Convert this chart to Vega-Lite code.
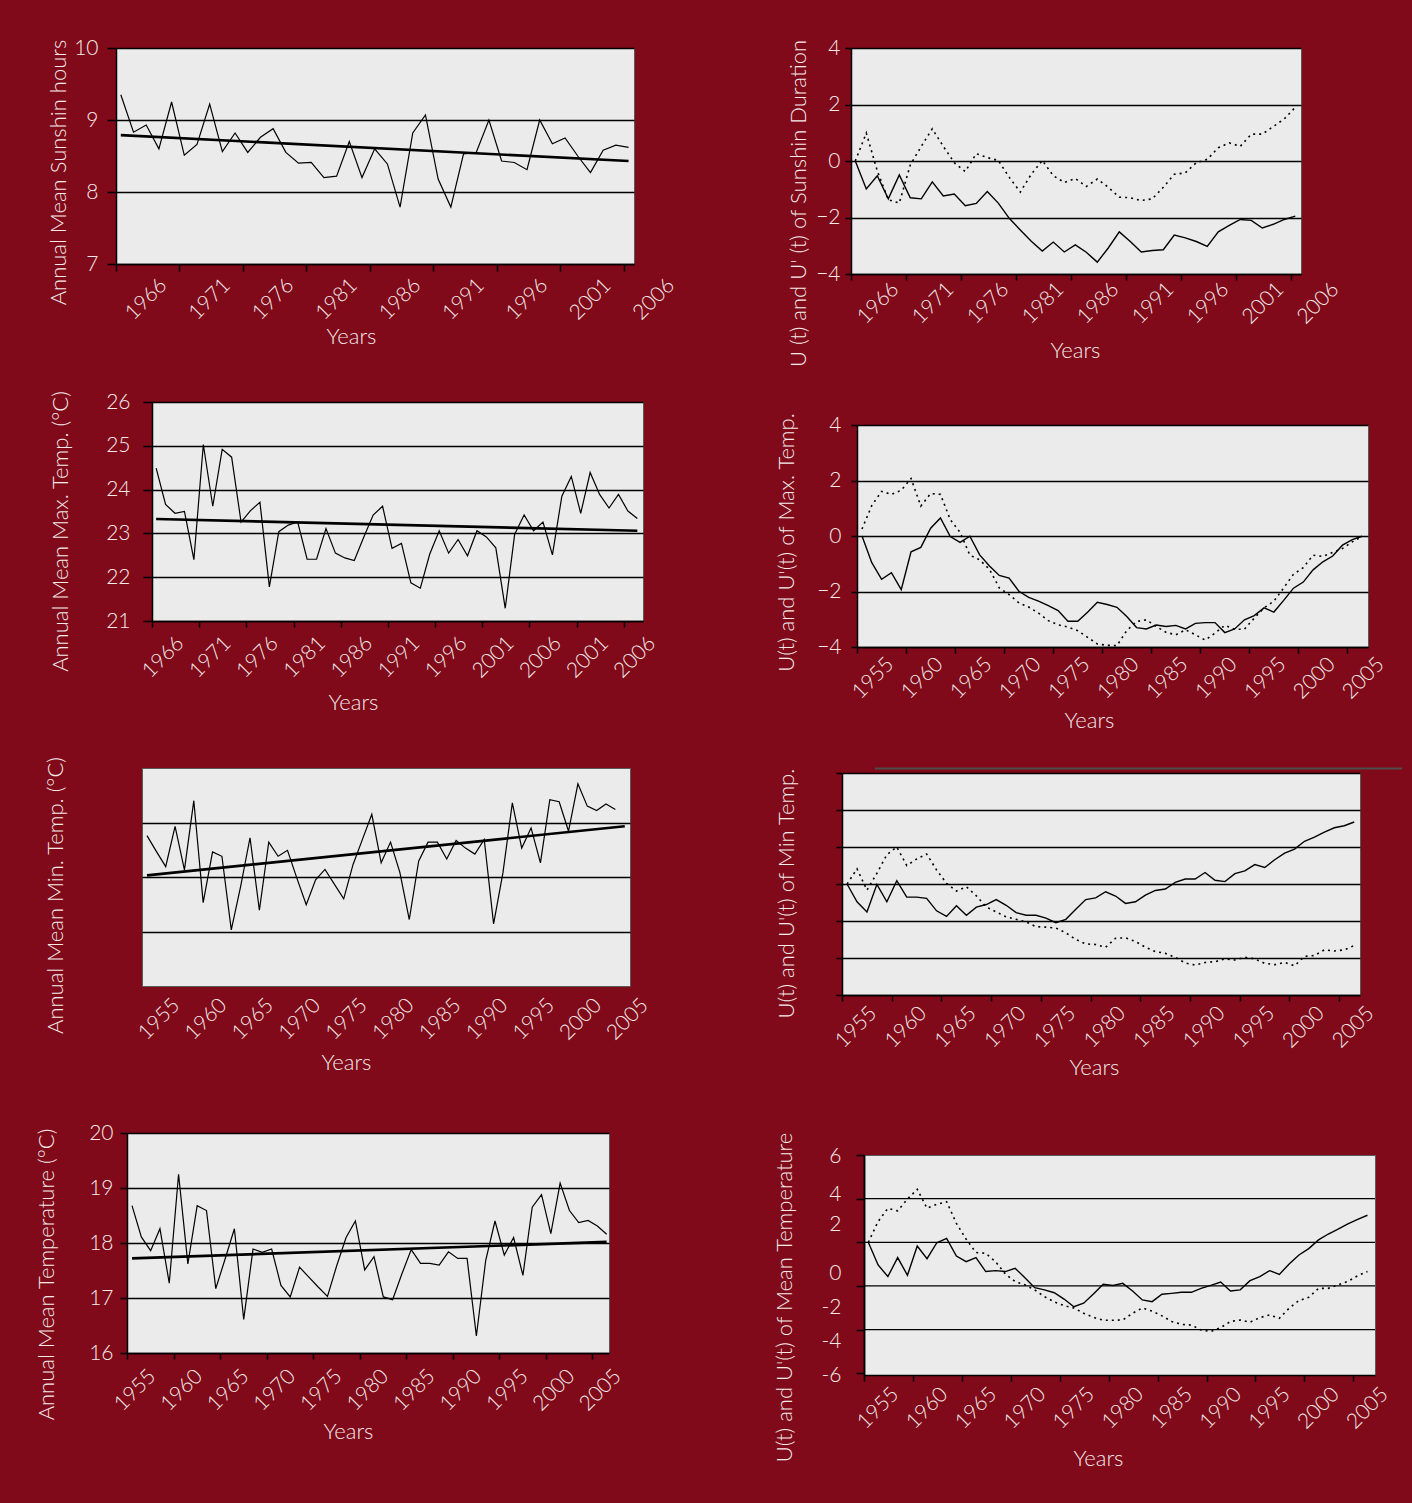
{
"$schema": "https://vega.github.io/schema/vega-lite/v6.json",
"background": "#80091a",
"padding": {"left": 0, "top": 5, "right": 8, "bottom": 35},
"config": {
  "view": {"fill": "#ebebeb", "stroke": "#5a5a5a", "strokeWidth": 1},
  "axis": {"labelFont": "Lato", "titleFont": "Lato", "labelFontWeight": 300, "titleFontWeight": 300, "labelColor": "#f3e9e9", "titleColor": "#f3e9e9", "labelFontSize": 21, "titleFontSize": 22, "domainColor": "#000000", "domainWidth": 1.5, "tickColor": "#000000", "tickWidth": 1.5, "gridColor": "#000000", "gridWidth": 1.3, "gridOpacity": 1, "labelFlush": false, "labelOverlap": false, "labelBound": false},
  "title": {"fontSize": 10, "color": "#80091a", "frame": "group"},
  "line": {"color": "#000000"}
},
"datasets": {
"p1": [{"year":1966,"v":9.35},{"year":1967,"v":8.83},{"year":1968,"v":8.93},{"year":1969,"v":8.60},{"year":1970,"v":9.25},{"year":1971,"v":8.51},{"year":1972,"v":8.66},{"year":1973,"v":9.22},{"year":1974,"v":8.56},{"year":1975,"v":8.82},{"year":1976,"v":8.55},{"year":1977,"v":8.76},{"year":1978,"v":8.88},{"year":1979,"v":8.55},{"year":1980,"v":8.40},{"year":1981,"v":8.41},{"year":1982,"v":8.20},{"year":1983,"v":8.22},{"year":1984,"v":8.70},{"year":1985,"v":8.20},{"year":1986,"v":8.60},{"year":1987,"v":8.39},{"year":1988,"v":7.79},{"year":1989,"v":8.82},{"year":1990,"v":9.07},{"year":1991,"v":8.18},{"year":1992,"v":7.79},{"year":1993,"v":8.53},{"year":1994,"v":8.55},{"year":1995,"v":9.00},{"year":1996,"v":8.43},{"year":1997,"v":8.41},{"year":1998,"v":8.31},{"year":1999,"v":9.00},{"year":2000,"v":8.67},{"year":2001,"v":8.75},{"year":2002,"v":8.50},{"year":2003,"v":8.27},{"year":2004,"v":8.58},{"year":2005,"v":8.65},{"year":2006,"v":8.62}],
"p1t": [{"year":1966,"v":8.79},{"year":2006,"v":8.43}],
"p2u": [{"year":1966,"v":0},{"year":1967,"v":-0.99},{"year":1968,"v":-0.52},{"year":1969,"v":-1.34},{"year":1970,"v":-0.49},{"year":1971,"v":-1.30},{"year":1972,"v":-1.34},{"year":1973,"v":-0.74},{"year":1974,"v":-1.24},{"year":1975,"v":-1.17},{"year":1976,"v":-1.58},{"year":1977,"v":-1.50},{"year":1978,"v":-1.08},{"year":1979,"v":-1.49},{"year":1980,"v":-2.03},{"year":1981,"v":-2.44},{"year":1982,"v":-2.84},{"year":1983,"v":-3.19},{"year":1984,"v":-2.87},{"year":1985,"v":-3.22},{"year":1986,"v":-2.97},{"year":1987,"v":-3.23},{"year":1988,"v":-3.58},{"year":1989,"v":-3.08},{"year":1990,"v":-2.51},{"year":1991,"v":-2.85},{"year":1992,"v":-3.22},{"year":1993,"v":-3.17},{"year":1994,"v":-3.14},{"year":1995,"v":-2.62},{"year":1996,"v":-2.72},{"year":1997,"v":-2.85},{"year":1998,"v":-3.02},{"year":1999,"v":-2.51},{"year":2000,"v":-2.28},{"year":2001,"v":-2.07},{"year":2002,"v":-2.10},{"year":2003,"v":-2.37},{"year":2004,"v":-2.24},{"year":2005,"v":-2.07},{"year":2006,"v":-1.95}],
"p2d": [{"year":1966,"v":0},{"year":1967,"v":0.99},{"year":1968,"v":-0.35},{"year":1969,"v":-1.37},{"year":1970,"v":-1.49},{"year":1971,"v":-0.14},{"year":1972,"v":0.52},{"year":1973,"v":1.14},{"year":1974,"v":0.52},{"year":1975,"v":-0.06},{"year":1976,"v":-0.37},{"year":1977,"v":0.26},{"year":1978,"v":0.12},{"year":1979,"v":0.02},{"year":1980,"v":-0.58},{"year":1981,"v":-1.10},{"year":1982,"v":-0.47},{"year":1983,"v":0.02},{"year":1984,"v":-0.52},{"year":1985,"v":-0.76},{"year":1986,"v":-0.62},{"year":1987,"v":-0.90},{"year":1988,"v":-0.64},{"year":1989,"v":-0.93},{"year":1990,"v":-1.28},{"year":1991,"v":-1.30},{"year":1992,"v":-1.40},{"year":1993,"v":-1.34},{"year":1994,"v":-0.93},{"year":1995,"v":-0.47},{"year":1996,"v":-0.42},{"year":1997,"v":-0.06},{"year":1998,"v":0.06},{"year":1999,"v":0.47},{"year":2000,"v":0.64},{"year":2001,"v":0.52},{"year":2002,"v":0.95},{"year":2003,"v":0.95},{"year":2004,"v":1.22},{"year":2005,"v":1.49},{"year":2006,"v":1.90}],
"p3": [{"year":1955,"v":24.49},{"year":1956,"v":23.66},{"year":1957,"v":23.46},{"year":1958,"v":23.50},{"year":1959,"v":22.40},{"year":1960,"v":25.03},{"year":1961,"v":23.62},{"year":1962,"v":24.92},{"year":1963,"v":24.74},{"year":1964,"v":23.26},{"year":1965,"v":23.52},{"year":1966,"v":23.71},{"year":1967,"v":21.78},{"year":1968,"v":23.04},{"year":1969,"v":23.19},{"year":1970,"v":23.26},{"year":1971,"v":22.41},{"year":1972,"v":22.41},{"year":1973,"v":23.11},{"year":1974,"v":22.55},{"year":1975,"v":22.44},{"year":1976,"v":22.38},{"year":1977,"v":22.91},{"year":1978,"v":23.42},{"year":1979,"v":23.62},{"year":1980,"v":22.66},{"year":1981,"v":22.77},{"year":1982,"v":21.87},{"year":1983,"v":21.75},{"year":1984,"v":22.53},{"year":1985,"v":23.06},{"year":1986,"v":22.55},{"year":1987,"v":22.86},{"year":1988,"v":22.49},{"year":1989,"v":23.06},{"year":1990,"v":22.92},{"year":1991,"v":22.67},{"year":1992,"v":21.29},{"year":1993,"v":22.98},{"year":1994,"v":23.42},{"year":1995,"v":23.06},{"year":1996,"v":23.26},{"year":1997,"v":22.51},{"year":1998,"v":23.85},{"year":1999,"v":24.30},{"year":2000,"v":23.46},{"year":2001,"v":24.39},{"year":2002,"v":23.89},{"year":2003,"v":23.58},{"year":2004,"v":23.89},{"year":2005,"v":23.51},{"year":2006,"v":23.34}],
"p3t": [{"year":1955,"v":23.33},{"year":2006,"v":23.06}],
"p4u": [{"year":1955,"v":0},{"year":1956,"v":-0.96},{"year":1957,"v":-1.56},{"year":1958,"v":-1.32},{"year":1959,"v":-1.93},{"year":1960,"v":-0.57},{"year":1961,"v":-0.41},{"year":1962,"v":0.28},{"year":1963,"v":0.65},{"year":1964,"v":-0.02},{"year":1965,"v":-0.23},{"year":1966,"v":-0.01},{"year":1967,"v":-0.68},{"year":1968,"v":-1.08},{"year":1969,"v":-1.42},{"year":1970,"v":-1.52},{"year":1971,"v":-1.99},{"year":1972,"v":-2.21},{"year":1973,"v":-2.35},{"year":1974,"v":-2.51},{"year":1975,"v":-2.69},{"year":1976,"v":-3.07},{"year":1977,"v":-3.07},{"year":1978,"v":-2.75},{"year":1979,"v":-2.39},{"year":1980,"v":-2.47},{"year":1981,"v":-2.57},{"year":1982,"v":-2.90},{"year":1983,"v":-3.30},{"year":1984,"v":-3.35},{"year":1985,"v":-3.21},{"year":1986,"v":-3.26},{"year":1987,"v":-3.22},{"year":1988,"v":-3.35},{"year":1989,"v":-3.15},{"year":1990,"v":-3.12},{"year":1991,"v":-3.12},{"year":1992,"v":-3.48},{"year":1993,"v":-3.35},{"year":1994,"v":-3.02},{"year":1995,"v":-2.87},{"year":1996,"v":-2.59},{"year":1997,"v":-2.74},{"year":1998,"v":-2.32},{"year":1999,"v":-1.88},{"year":2000,"v":-1.66},{"year":2001,"v":-1.22},{"year":2002,"v":-0.93},{"year":2003,"v":-0.72},{"year":2004,"v":-0.33},{"year":2005,"v":-0.13},{"year":2006,"v":-0.01}],
"p4d": [{"year":1955,"v":0.25},{"year":1956,"v":1.10},{"year":1957,"v":1.61},{"year":1958,"v":1.50},{"year":1959,"v":1.65},{"year":1960,"v":2.07},{"year":1961,"v":1.08},{"year":1962,"v":1.53},{"year":1963,"v":1.50},{"year":1964,"v":0.59},{"year":1965,"v":0.13},{"year":1966,"v":-0.69},{"year":1967,"v":-0.86},{"year":1968,"v":-1.20},{"year":1969,"v":-1.87},{"year":1970,"v":-2.11},{"year":1971,"v":-2.41},{"year":1972,"v":-2.56},{"year":1973,"v":-2.78},{"year":1974,"v":-3.05},{"year":1975,"v":-3.20},{"year":1976,"v":-3.28},{"year":1977,"v":-3.41},{"year":1978,"v":-3.65},{"year":1979,"v":-3.89},{"year":1980,"v":-3.94},{"year":1981,"v":-3.95},{"year":1982,"v":-3.41},{"year":1983,"v":-3.08},{"year":1984,"v":-3.02},{"year":1985,"v":-3.26},{"year":1986,"v":-3.47},{"year":1987,"v":-3.56},{"year":1988,"v":-3.38},{"year":1989,"v":-3.56},{"year":1990,"v":-3.75},{"year":1991,"v":-3.50},{"year":1992,"v":-3.22},{"year":1993,"v":-3.36},{"year":1994,"v":-3.36},{"year":1995,"v":-2.96},{"year":1996,"v":-2.59},{"year":1997,"v":-2.35},{"year":1998,"v":-1.87},{"year":1999,"v":-1.38},{"year":2000,"v":-1.14},{"year":2001,"v":-0.69},{"year":2002,"v":-0.74},{"year":2003,"v":-0.59},{"year":2004,"v":-0.45},{"year":2005,"v":-0.21},{"year":2006,"v":-0.01}],
"p5": [{"year":1955,"v":13.76},{"year":1956,"v":13.47},{"year":1957,"v":13.19},{"year":1958,"v":13.93},{"year":1959,"v":13.13},{"year":1960,"v":14.40},{"year":1961,"v":12.53},{"year":1962,"v":13.46},{"year":1963,"v":13.38},{"year":1964,"v":12.03},{"year":1965,"v":12.83},{"year":1966,"v":13.72},{"year":1967,"v":12.39},{"year":1968,"v":13.64},{"year":1969,"v":13.38},{"year":1970,"v":13.49},{"year":1971,"v":12.98},{"year":1972,"v":12.49},{"year":1973,"v":12.95},{"year":1974,"v":13.14},{"year":1975,"v":12.87},{"year":1976,"v":12.60},{"year":1977,"v":13.23},{"year":1978,"v":13.69},{"year":1979,"v":14.15},{"year":1980,"v":13.26},{"year":1981,"v":13.64},{"year":1982,"v":13.08},{"year":1983,"v":12.22},{"year":1984,"v":13.29},{"year":1985,"v":13.64},{"year":1986,"v":13.64},{"year":1987,"v":13.33},{"year":1988,"v":13.67},{"year":1989,"v":13.53},{"year":1990,"v":13.42},{"year":1991,"v":13.69},{"year":1992,"v":12.14},{"year":1993,"v":13.08},{"year":1994,"v":14.36},{"year":1995,"v":13.53},{"year":1996,"v":13.90},{"year":1997,"v":13.26},{"year":1998,"v":14.42},{"year":1999,"v":14.38},{"year":2000,"v":13.84},{"year":2001,"v":14.71},{"year":2002,"v":14.30},{"year":2003,"v":14.22},{"year":2004,"v":14.34},{"year":2005,"v":14.24}],
"p5t": [{"year":1955,"v":13.03},{"year":2006,"v":13.93}],
"p6u": [{"year":1955,"v":0},{"year":1956,"v":-0.96},{"year":1957,"v":-1.51},{"year":1958,"v":-0.02},{"year":1959,"v":-0.96},{"year":1960,"v":0.18},{"year":1961,"v":-0.71},{"year":1962,"v":-0.71},{"year":1963,"v":-0.78},{"year":1964,"v":-1.45},{"year":1965,"v":-1.75},{"year":1966,"v":-1.18},{"year":1967,"v":-1.69},{"year":1968,"v":-1.25},{"year":1969,"v":-1.11},{"year":1970,"v":-0.84},{"year":1971,"v":-1.15},{"year":1972,"v":-1.55},{"year":1973,"v":-1.69},{"year":1974,"v":-1.69},{"year":1975,"v":-1.84},{"year":1976,"v":-2.09},{"year":1977,"v":-1.91},{"year":1978,"v":-1.36},{"year":1979,"v":-0.84},{"year":1980,"v":-0.75},{"year":1981,"v":-0.42},{"year":1982,"v":-0.65},{"year":1983,"v":-1.05},{"year":1984,"v":-0.96},{"year":1985,"v":-0.60},{"year":1986,"v":-0.35},{"year":1987,"v":-0.27},{"year":1988,"v":0.09},{"year":1989,"v":0.27},{"year":1990,"v":0.27},{"year":1991,"v":0.62},{"year":1992,"v":0.20},{"year":1993,"v":0.13},{"year":1994,"v":0.56},{"year":1995,"v":0.71},{"year":1996,"v":1.05},{"year":1997,"v":0.89},{"year":1998,"v":1.31},{"year":1999,"v":1.67},{"year":2000,"v":1.89},{"year":2001,"v":2.31},{"year":2002,"v":2.53},{"year":2003,"v":2.80},{"year":2004,"v":3.04},{"year":2005,"v":3.15},{"year":2006,"v":3.35}],
"p6d": [{"year":1955,"v":0},{"year":1956,"v":0.82},{"year":1957,"v":-0.33},{"year":1958,"v":0.58},{"year":1959,"v":1.58},{"year":1960,"v":2.00},{"year":1961,"v":1.00},{"year":1962,"v":1.35},{"year":1963,"v":1.62},{"year":1964,"v":0.76},{"year":1965,"v":0.04},{"year":1966,"v":-0.38},{"year":1967,"v":-0.15},{"year":1968,"v":-0.64},{"year":1969,"v":-1.24},{"year":1970,"v":-1.51},{"year":1971,"v":-1.78},{"year":1972,"v":-1.91},{"year":1973,"v":-2.05},{"year":1974,"v":-2.31},{"year":1975,"v":-2.33},{"year":1976,"v":-2.38},{"year":1977,"v":-2.64},{"year":1978,"v":-3.00},{"year":1979,"v":-3.24},{"year":1980,"v":-3.27},{"year":1981,"v":-3.42},{"year":1982,"v":-2.93},{"year":1983,"v":-2.91},{"year":1984,"v":-3.11},{"year":1985,"v":-3.42},{"year":1986,"v":-3.65},{"year":1987,"v":-3.75},{"year":1988,"v":-3.96},{"year":1989,"v":-4.27},{"year":1990,"v":-4.38},{"year":1991,"v":-4.24},{"year":1992,"v":-4.20},{"year":1993,"v":-4.05},{"year":1994,"v":-4.11},{"year":1995,"v":-3.96},{"year":1996,"v":-4.05},{"year":1997,"v":-4.29},{"year":1998,"v":-4.36},{"year":1999,"v":-4.24},{"year":2000,"v":-4.42},{"year":2001,"v":-3.91},{"year":2002,"v":-3.87},{"year":2003,"v":-3.56},{"year":2004,"v":-3.62},{"year":2005,"v":-3.56},{"year":2006,"v":-3.33}],
"p6line": [{"year":1957.8,"year2":2010.8,"v":6.25}],
"p7": [{"year":1955,"v":18.68},{"year":1956,"v":18.11},{"year":1957,"v":17.86},{"year":1958,"v":18.26},{"year":1959,"v":17.27},{"year":1960,"v":19.25},{"year":1961,"v":17.62},{"year":1962,"v":18.68},{"year":1963,"v":18.59},{"year":1964,"v":17.17},{"year":1965,"v":17.71},{"year":1966,"v":18.26},{"year":1967,"v":16.61},{"year":1968,"v":17.89},{"year":1969,"v":17.83},{"year":1970,"v":17.89},{"year":1971,"v":17.23},{"year":1972,"v":17.02},{"year":1973,"v":17.56},{"year":1974,"v":17.38},{"year":1975,"v":17.20},{"year":1976,"v":17.03},{"year":1977,"v":17.59},{"year":1978,"v":18.10},{"year":1979,"v":18.40},{"year":1980,"v":17.51},{"year":1981,"v":17.75},{"year":1982,"v":17.02},{"year":1983,"v":16.97},{"year":1984,"v":17.44},{"year":1985,"v":17.88},{"year":1986,"v":17.63},{"year":1987,"v":17.63},{"year":1988,"v":17.60},{"year":1989,"v":17.84},{"year":1990,"v":17.72},{"year":1991,"v":17.72},{"year":1992,"v":16.31},{"year":1993,"v":17.68},{"year":1994,"v":18.40},{"year":1995,"v":17.78},{"year":1996,"v":18.10},{"year":1997,"v":17.41},{"year":1998,"v":18.65},{"year":1999,"v":18.88},{"year":2000,"v":18.17},{"year":2001,"v":19.09},{"year":2002,"v":18.59},{"year":2003,"v":18.37},{"year":2004,"v":18.41},{"year":2005,"v":18.31},{"year":2006,"v":18.16}],
"p7t": [{"year":1955,"v":17.72},{"year":2006,"v":18.02}],
"p8u": [{"year":1955,"v":0},{"year":1956,"v":-1.04},{"year":1957,"v":-1.57},{"year":1958,"v":-0.70},{"year":1959,"v":-1.51},{"year":1960,"v":-0.17},{"year":1961,"v":-0.75},{"year":1962,"v":-0.02},{"year":1963,"v":0.18},{"year":1964,"v":-0.63},{"year":1965,"v":-0.89},{"year":1966,"v":-0.70},{"year":1967,"v":-1.34},{"year":1968,"v":-1.30},{"year":1969,"v":-1.34},{"year":1970,"v":-1.19},{"year":1971,"v":-1.62},{"year":1972,"v":-2.08},{"year":1973,"v":-2.18},{"year":1974,"v":-2.31},{"year":1975,"v":-2.60},{"year":1976,"v":-2.95},{"year":1977,"v":-2.79},{"year":1978,"v":-2.37},{"year":1979,"v":-1.92},{"year":1980,"v":-1.98},{"year":1981,"v":-1.88},{"year":1982,"v":-2.23},{"year":1983,"v":-2.64},{"year":1984,"v":-2.72},{"year":1985,"v":-2.38},{"year":1986,"v":-2.34},{"year":1987,"v":-2.29},{"year":1988,"v":-2.29},{"year":1989,"v":-2.11},{"year":1990,"v":-1.97},{"year":1991,"v":-1.82},{"year":1992,"v":-2.23},{"year":1993,"v":-2.18},{"year":1994,"v":-1.76},{"year":1995,"v":-1.57},{"year":1996,"v":-1.30},{"year":1997,"v":-1.47},{"year":1998,"v":-0.99},{"year":1999,"v":-0.58},{"year":2000,"v":-0.29},{"year":2001,"v":0.11},{"year":2002,"v":0.38},{"year":2003,"v":0.60},{"year":2004,"v":0.84},{"year":2005,"v":1.05},{"year":2006,"v":1.24}],
"p8d": [{"year":1955,"v":0},{"year":1956,"v":0.95},{"year":1957,"v":1.56},{"year":1958,"v":1.44},{"year":1959,"v":1.98},{"year":1960,"v":2.43},{"year":1961,"v":1.56},{"year":1962,"v":1.74},{"year":1963,"v":1.86},{"year":1964,"v":0.87},{"year":1965,"v":0.14},{"year":1966,"v":-0.47},{"year":1967,"v":-0.50},{"year":1968,"v":-0.89},{"year":1969,"v":-1.45},{"year":1970,"v":-1.80},{"year":1971,"v":-1.95},{"year":1972,"v":-2.18},{"year":1973,"v":-2.49},{"year":1974,"v":-2.73},{"year":1975,"v":-2.90},{"year":1976,"v":-3.01},{"year":1977,"v":-3.25},{"year":1978,"v":-3.44},{"year":1979,"v":-3.57},{"year":1980,"v":-3.57},{"year":1981,"v":-3.56},{"year":1982,"v":-3.25},{"year":1983,"v":-3.01},{"year":1984,"v":-3.15},{"year":1985,"v":-3.37},{"year":1986,"v":-3.63},{"year":1987,"v":-3.76},{"year":1988,"v":-3.79},{"year":1989,"v":-4.02},{"year":1990,"v":-4.09},{"year":1991,"v":-3.91},{"year":1992,"v":-3.63},{"year":1993,"v":-3.56},{"year":1994,"v":-3.66},{"year":1995,"v":-3.45},{"year":1996,"v":-3.33},{"year":1997,"v":-3.48},{"year":1998,"v":-3.02},{"year":1999,"v":-2.67},{"year":2000,"v":-2.52},{"year":2001,"v":-2.11},{"year":2002,"v":-2.11},{"year":2003,"v":-1.95},{"year":2004,"v":-1.79},{"year":2005,"v":-1.53},{"year":2006,"v":-1.34}],
"p8g": [{"v":-4},{"v":-2},{"v":0},{"v":2}],
"blank": [{}]
},
"spacing": 90,
"hconcat": [
{"concat": [
 {"spacing": 0, "hconcat": [
  {"width": 46, "height": 1, "view": {"fill": null, "stroke": null}, "data": {"name": "blank"}, "mark": {"type": "point", "opacity": 0, "size": 1}},
  {"width": 518, "height": 216,
   "title": {"text": " ", "offset": 21},
   "encoding": {
     "x": {"field": "year", "type": "quantitative", "scale": {"domain": [1965.62, 2006.43], "nice": false, "zero": false},
           "axis": {"title": "Years", "titleX": 235, "grid": false, "values": [1965.62,1970.62,1975.62,1980.62,1985.62,1990.62,1995.62,2000.62,2005.62], "labelExpr": "'' + round(datum.value + 0.5)", "labelAngle": -45, "labelAlign": "center", "labelBaseline": "middle", "labelOffset": 30, "tickSize": 7, "labelPadding": 28, "minExtent": 50, "maxExtent": 50, "titlePadding": 12}},
     "y": {"field": "v", "type": "quantitative", "scale": {"domain": [7, 10], "nice": false, "zero": false},
           "axis": {"title": "Annual Mean Sunshin hours", "titleY": 124, "values": [7,8,9,10], "grid": true, "tickSize": 9, "labelPadding": 9, "minExtent": 40, "maxExtent": 40, "titlePadding": 6}}
   },
   "layer": [
     {"data": {"name": "p1"}, "mark": {"type": "line", "color": "#000", "strokeWidth": 1.2}},
     {"data": {"name": "p1t"}, "mark": {"type": "line", "color": "#000", "strokeWidth": 2.6}}
   ]}]},
 {"spacing": 0, "hconcat": [
  {"width": 48, "height": 1, "view": {"fill": null, "stroke": null}, "data": {"name": "blank"}, "mark": {"type": "point", "opacity": 0, "size": 1}},
  {"width": 491, "height": 219,
   "title": {"text": " ", "offset": 21},
   "encoding": {
     "x": {"field": "year", "type": "quantitative", "scale": {"domain": [1954.56, 2006.6], "nice": false, "zero": false},
           "axis": {"title": "Years", "titleX": 201, "grid": false, "values": [1954.56,1959.56,1964.56,1969.56,1974.56,1979.56,1984.56,1989.56,1994.56,1999.56,2004.56], "labelExpr": "datum.value < 1997 ? '' + (1966 + 5 * round((datum.value - 1954.56) / 5)) : datum.value < 2002 ? '2001' : '2006'", "labelAngle": -45, "labelAlign": "center", "labelBaseline": "middle", "labelOffset": 11, "tickSize": 6, "labelPadding": 30, "minExtent": 50, "maxExtent": 50, "titlePadding": 21}},
     "y": {"field": "v", "type": "quantitative", "scale": {"domain": [21, 26], "nice": false, "zero": false},
           "axis": {"title": "Annual Mean Max. Temp. (°C)", "titleY": 129, "values": [21,22,23,24,25,26], "grid": true, "tickSize": 9, "labelPadding": 13, "minExtent": 46, "maxExtent": 46, "titlePadding": 34}}
   },
   "layer": [
     {"data": {"name": "p3"}, "mark": {"type": "line", "color": "#000", "strokeWidth": 1.2}},
     {"data": {"name": "p3t"}, "mark": {"type": "line", "color": "#000", "strokeWidth": 2.6}}
   ]}]},
 {"spacing": 0, "hconcat": [
  {"width": 43, "height": 1, "view": {"fill": null, "stroke": null}, "data": {"name": "blank"}, "mark": {"type": "point", "opacity": 0, "size": 1}},
  {"width": 488, "height": 218,
   "title": {"text": " ", "offset": 21},
   "encoding": {
     "x": {"field": "year", "type": "quantitative", "scale": {"domain": [1954.47, 2006.56], "nice": false, "zero": false},
           "axis": {"title": "Years", "titleX": 204, "grid": false, "domain": false, "ticks": false, "values": [1954.47,1959.47,1964.47,1969.47,1974.47,1979.47,1984.47,1989.47,1994.47,1999.47,2004.47], "labelExpr": "'' + round(datum.value + 0.5)", "labelAngle": -45, "labelAlign": "center", "labelBaseline": "middle", "labelOffset": 17, "labelPadding": 33, "minExtent": 50, "maxExtent": 50, "titlePadding": 16}},
     "y": {"field": "v", "type": "quantitative", "scale": {"domain": [11, 15], "nice": false, "zero": false},
           "axis": {"title": "Annual Mean Min. Temp. (°C)", "titleY": 127, "values": [12,13,14], "grid": true, "labels": false, "ticks": false, "domain": false, "minExtent": 0, "maxExtent": 0, "titlePadding": 75}}
   },
   "layer": [
     {"data": {"name": "p5"}, "mark": {"type": "line", "color": "#000", "strokeWidth": 1.2}},
     {"data": {"name": "p5t"}, "mark": {"type": "line", "color": "#000", "strokeWidth": 2.6}}
   ]}]},
 {"spacing": 0, "hconcat": [
  {"width": 34, "height": 1, "view": {"fill": null, "stroke": null}, "data": {"name": "blank"}, "mark": {"type": "point", "opacity": 0, "size": 1}},
  {"width": 482, "height": 220,
   "title": {"text": " ", "offset": 27},
   "encoding": {
     "x": {"field": "year", "type": "quantitative", "scale": {"domain": [1954.46, 2006.25], "nice": false, "zero": false},
           "axis": {"title": "Years", "titleX": 221, "grid": false, "values": [1954.46,1959.46,1964.46,1969.46,1974.46,1979.46,1984.46,1989.46,1994.46,1999.46,2004.46], "labelExpr": "'' + round(datum.value + 0.5)", "labelAngle": -45, "labelAlign": "center", "labelBaseline": "middle", "labelOffset": 8, "tickSize": 6, "labelPadding": 31, "minExtent": 50, "maxExtent": 50, "titlePadding": 18}},
     "y": {"field": "v", "type": "quantitative", "scale": {"domain": [16, 20], "nice": false, "zero": false},
           "axis": {"title": "Annual Mean Temperature (°C)", "titleY": 141, "values": [16,17,18,19,20], "grid": true, "tickSize": 7, "labelPadding": 7, "minExtent": 38, "maxExtent": 38, "titlePadding": 31}}
   },
   "layer": [
     {"data": {"name": "p7"}, "mark": {"type": "line", "color": "#000", "strokeWidth": 1.2}},
     {"data": {"name": "p7t"}, "mark": {"type": "line", "color": "#000", "strokeWidth": 2.6}}
   ]}]}
 ], "columns": 1, "align": "none", "spacing": 10},
{"concat": [
 {"spacing": 0, "hconcat": [
  {"width": 17, "height": 1, "view": {"fill": null, "stroke": null}, "data": {"name": "blank"}, "mark": {"type": "point", "opacity": 0, "size": 1}},
  {"width": 450, "height": 226,
   "title": {"text": " ", "offset": 19},
   "encoding": {
     "x": {"field": "year", "type": "quantitative", "scale": {"domain": [1965.61, 2006.52], "nice": false, "zero": false},
           "axis": {"title": "Years", "titleX": 224, "grid": false, "values": [1965.61,1970.61,1975.61,1980.61,1985.61,1990.61,1995.61,2000.61,2005.61], "labelExpr": "'' + round(datum.value + 0.5)", "labelAngle": -45, "labelAlign": "center", "labelBaseline": "middle", "labelOffset": 27, "tickSize": 6, "labelPadding": 23, "minExtent": 50, "maxExtent": 50, "titlePadding": 16}},
     "y": {"field": "v", "type": "quantitative", "scale": {"domain": [-4, 4], "nice": false, "zero": false},
           "axis": {"title": "U (t) and U' (t) of Sunshin Duration", "titleY": 155, "values": [-4,-2,0,2,4], "grid": true, "tickSize": 6, "labelPadding": 5, "minExtent": 29, "maxExtent": 29, "titlePadding": 12}}
   },
   "layer": [
     {"data": {"name": "p2u"}, "mark": {"type": "line", "color": "#000", "strokeWidth": 1.4}},
     {"data": {"name": "p2d"}, "mark": {"type": "line", "color": "#000", "strokeWidth": 1.6, "strokeDash": [2, 4]}}
   ]}]},
 {"spacing": 0, "hconcat": [
  {"width": 5, "height": 1, "view": {"fill": null, "stroke": null}, "data": {"name": "blank"}, "mark": {"type": "point", "opacity": 0, "size": 1}},
  {"width": 511, "height": 222,
   "title": {"text": " ", "offset": 23},
   "encoding": {
     "x": {"field": "year", "type": "quantitative", "scale": {"domain": [1954.49, 2006.6], "nice": false, "zero": false},
           "axis": {"title": "Years", "titleX": 232, "grid": false, "values": [1954.49,1959.49,1964.49,1969.49,1974.49,1979.49,1984.49,1989.49,1994.49,1999.49,2004.49], "labelExpr": "'' + round(datum.value + 0.5)", "labelAngle": -45, "labelAlign": "center", "labelBaseline": "middle", "labelOffset": 16, "tickSize": 6, "labelPadding": 25, "minExtent": 50, "maxExtent": 50, "titlePadding": 13}},
     "y": {"field": "v", "type": "quantitative", "scale": {"domain": [-4, 4], "nice": false, "zero": false},
           "axis": {"title": "U(t) and U'(t) of Max. Temp.", "titleY": 117, "values": [-4,-2,0,2,4], "grid": true, "tickSize": 6, "labelPadding": 10, "minExtent": 34, "maxExtent": 34, "titlePadding": 25}}
   },
   "layer": [
     {"data": {"name": "p4u"}, "mark": {"type": "line", "color": "#000", "strokeWidth": 1.4}},
     {"data": {"name": "p4d"}, "mark": {"type": "line", "color": "#000", "strokeWidth": 1.6, "strokeDash": [2, 4]}}
   ]}]},
 {"spacing": 0, "hconcat": [
  {"width": 5, "height": 1, "view": {"fill": null, "stroke": null}, "data": {"name": "blank"}, "mark": {"type": "point", "opacity": 0, "size": 1}},
  {"width": 518, "height": 222,
   "title": {"text": " ", "offset": 14},
   "encoding": {
     "x": {"field": "year", "type": "quantitative", "scale": {"domain": [1954.49, 2006.58], "nice": false, "zero": false},
           "axis": {"title": "Years", "titleX": 252, "grid": false, "values": [1954.49,1959.49,1964.49,1969.49,1974.49,1979.49,1984.49,1989.49,1994.49,1999.49,2004.49], "labelExpr": "'' + round(datum.value + 0.5)", "labelAngle": -45, "labelAlign": "center", "labelBaseline": "middle", "labelOffset": 14, "tickSize": 6, "labelPadding": 26, "minExtent": 50, "maxExtent": 50, "titlePadding": 12}},
     "y": {"field": "v", "type": "quantitative", "scale": {"domain": [-6, 6], "nice": false, "zero": false},
           "axis": {"title": "U(t) and U'(t) of Min Temp.", "titleY": 120, "values": [-6,-4,-2,0,2,4,6], "grid": true, "labels": false, "tickSize": 6, "minExtent": 6, "maxExtent": 6, "titlePadding": 38}}
   },
   "layer": [
     {"data": {"name": "p6line"}, "mark": {"type": "rule", "color": "#4d4d4d", "strokeWidth": 2, "clip": false}, "encoding": {"x2": {"field": "year2"}}},
     {"data": {"name": "p6u"}, "mark": {"type": "line", "color": "#000", "strokeWidth": 1.4}},
     {"data": {"name": "p6d"}, "mark": {"type": "line", "color": "#000", "strokeWidth": 1.6, "strokeDash": [2, 4]}}
   ]}]},
 {"spacing": 0, "hconcat": [
  {"width": 3, "height": 1, "view": {"fill": null, "stroke": null}, "data": {"name": "blank"}, "mark": {"type": "point", "opacity": 0, "size": 1}},
  {"width": 511, "height": 220,
   "title": {"text": " ", "offset": 32},
   "resolve": {"axis": {"y": "independent"}},
   "layer": [
     {"data": {"name": "p8g"}, "mark": {"type": "rule", "color": "#000", "strokeWidth": 1.3},
      "encoding": {"y": {"field": "v", "type": "quantitative", "scale": {"domain": [-6.08, 4], "nice": false, "zero": false},
        "axis": {"orient": "left", "title": null, "labels": false, "grid": false, "values": [-6, -4, -2, 0, 2, 4], "tickSize": 8, "minExtent": 0, "maxExtent": 0}}}},
     {"encoding": {
        "x": {"field": "year", "type": "quantitative", "scale": {"domain": [1954.56, 2006.77], "nice": false, "zero": false},
              "axis": {"title": "Years", "titleX": 234, "grid": false, "values": [1954.56,1959.56,1964.56,1969.56,1974.56,1979.56,1984.56,1989.56,1994.56,1999.56,2004.56], "labelExpr": "'' + round(datum.value + 0.5)", "labelAngle": -45, "labelAlign": "center", "labelBaseline": "middle", "labelOffset": 14, "tickSize": 6, "labelPadding": 27, "minExtent": 50, "maxExtent": 50, "titlePadding": 23}},
        "y": {"field": "v", "type": "quantitative", "scale": {"domain": [-6.08, 4], "nice": false, "zero": false},
              "axis": {"orient": "left", "title": "U(t) and U'(t) of Mean Temperature", "titleY": 142, "values": [3.92, 2.21, 0.82, -1.43, -2.97, -4.56, -6.08], "labelExpr": "datum.value > 3 ? '6' : datum.value > 1.5 ? '4' : datum.value > 0 ? '2' : datum.value > -2 ? '0' : datum.value > -3.5 ? '-2' : datum.value > -5 ? '-4' : '-6'", "grid": false, "ticks": false, "labelPadding": 23, "minExtent": 41, "maxExtent": 41, "titlePadding": 27}}
      },
      "layer": [
        {"data": {"name": "p8u"}, "mark": {"type": "line", "color": "#000", "strokeWidth": 1.4}},
        {"data": {"name": "p8d"}, "mark": {"type": "line", "color": "#000", "strokeWidth": 1.6, "strokeDash": [2, 4]}}
      ]}
   ]}]}
 ], "columns": 1, "align": "none", "spacing": 10}
]
}
